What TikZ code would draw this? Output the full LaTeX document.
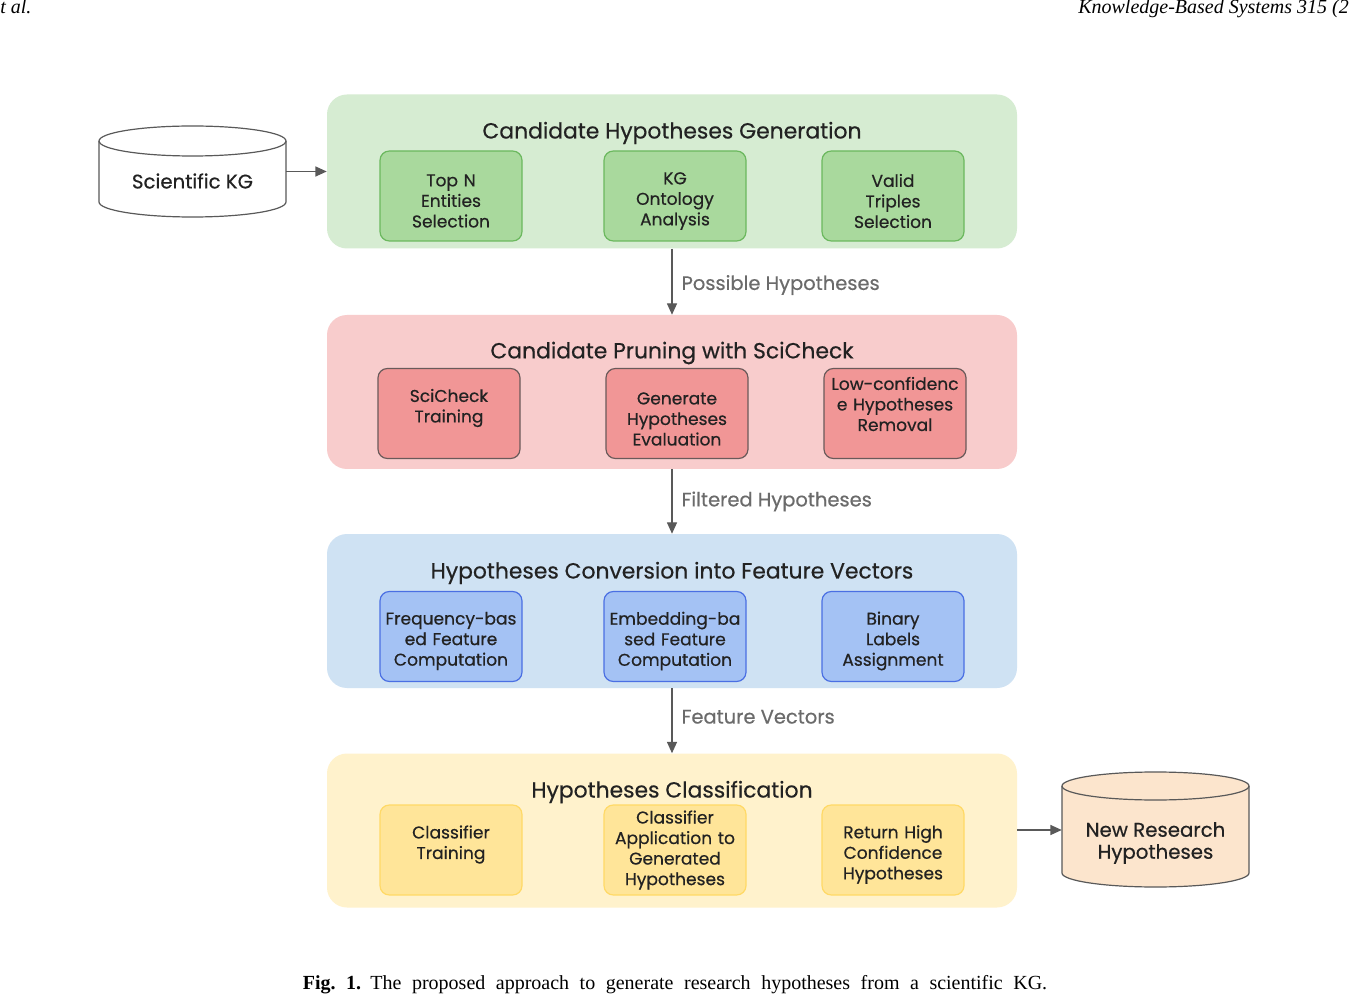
\documentclass[tikz,border=0pt]{standalone}
\usepackage{fontspec}
\setmainfont{Liberation Serif}
\newfontfamily\diagfont[FakeBold=0.5]{Poppins}
\usetikzlibrary{arrows.meta}
\definecolor{ggrp}{HTML}{D6ECD2}
\definecolor{gbox}{HTML}{A9D99D}
\definecolor{gbrd}{HTML}{6BB85E}
\definecolor{rgrp}{HTML}{F8CCCC}
\definecolor{rbox}{HTML}{F19696}
\definecolor{rbrd}{HTML}{6A5A5A}
\definecolor{bgrp}{HTML}{CFE2F3}
\definecolor{bbox}{HTML}{A4C2F4}
\definecolor{bbrd}{HTML}{4A6FE3}
\definecolor{ygrp}{HTML}{FFF2CC}
\definecolor{ybox}{HTML}{FFE599}
\definecolor{ybrd}{HTML}{FFD966}
\definecolor{ocyl}{HTML}{FCE5CD}
\definecolor{arrowc}{HTML}{595959}
\definecolor{labc}{HTML}{6B6B6B}
\definecolor{txtc}{HTML}{222222}
\tikzset{
  grp/.style={rounded corners=15pt, minimum width=517.5pt, minimum height=115.5pt, inner sep=0pt},
  grptitle/.style={font=\diagfont\fontsize{16.4}{19}\selectfont, text=txtc, inner sep=0pt},
  stepbox/.style={rounded corners=7pt, line width=0.9pt, minimum width=106.5pt, minimum height=67.5pt, inner sep=0pt},
  boxtext/.style={text width=106pt, align=center, inner sep=0pt, text=txtc,
    font=\diagfont\fontsize{12.8}{15.4}\selectfont},
  greenbox/.style={stepbox, fill=gbox, draw=gbrd},
  redbox/.style={stepbox, fill=rbox, draw=rbrd},
  bluebox/.style={stepbox, fill=bbox, draw=bbrd},
  yellowbox/.style={stepbox, fill=ybox, draw=ybrd},
  flow/.style={draw=arrowc, line width=0.9pt, -{Triangle[length=8.5pt,width=7.5pt]}},
  flowlab/.style={font=\diagfont\fontsize{14.6}{17}\selectfont, text=labc, inner sep=0pt, anchor=west, xshift=6.75pt},
  cyltext/.style={font=\diagfont\fontsize{14.8}{16.5}\selectfont, text=txtc, align=center, inner sep=0pt},
}
\begin{document}
\begin{tikzpicture}[x=0.75pt, y=-0.75pt]
\useasboundingbox (0,0) rectangle (1350,1005);
\fill[white] (0,0) rectangle (1350,1005);

% header
\node[anchor=base west, inner sep=0pt, font=\itshape\fontsize{15}{18}\selectfont] (hdl) at (0,14) {t al.};
\node[anchor=base west, inner sep=0pt, font=\itshape\fontsize{15}{18}\selectfont] (hdr) at (1078,14) {Knowledge-Based Systems 315 (2};

% groups
\node[grp, fill=ggrp] (g1) at (672,171.5) {};
\node[grp, fill=rgrp] (g2) at (672,392) {};
\node[grp, fill=bgrp] (g3) at (672,611) {};
\node[grp, fill=ygrp] (g4) at (672,830.5) {};

\node[grptitle] (t1) at (672,133) {Candidate Hypotheses Generation};
\node[grptitle] (t2) at (672,353) {Candidate Pruning with SciCheck};
\node[grptitle] (t3) at (672,573) {Hypotheses Conversion into Feature Vectors};
\node[grptitle] (t4) at (672,792) {Hypotheses Classification};

% green steps
\node[greenbox] (a1) at (451,196) {};
\node[greenbox] (a2) at (675,196) {};
\node[greenbox] (a3) at (893,196) {};
\node[boxtext] (a1t) at (451,201) {Top N\\Entities\\Selection};
\node[boxtext] (a2t) at (675,201) {KG\\Ontology\\Analysis};
\node[boxtext] (a3t) at (893,201) {Valid\\Triples\\Selection};
% red steps
\node[redbox] (b1) at (449,413.5) {};
\node[redbox] (b2) at (677,413.5) {};
\node[redbox] (b3) at (895,413.5) {};
\node[boxtext] (b1t) at (449,408) {SciCheck\\Training};
\node[boxtext] (b2t) at (677,419) {Generate\\Hypotheses\\Evaluation};
\node[boxtext] (b3t) at (895,404) {Low-confidenc\\e Hypotheses\\Removal};
% blue steps
\node[bluebox] (c1) at (451,636.5) {};
\node[bluebox] (c2) at (675,636.5) {};
\node[bluebox] (c3) at (893,636.5) {};
\node[boxtext] (c1t) at (451,641) {Frequency-bas\\ed Feature\\Computation};
\node[boxtext] (c2t) at (675,641) {Embedding-ba\\sed Feature\\Computation};
\node[boxtext] (c3t) at (893,641) {Binary\\Labels\\Assignment};
% yellow steps
\node[yellowbox] (d1) at (451,850) {};
\node[yellowbox] (d2) at (675,850) {};
\node[yellowbox] (d3) at (893,850) {};
\node[boxtext] (d1t) at (451,844.5) {Classifier\\Training};
\node[boxtext] (d2t) at (675,850) {Classifier\\Application to\\Generated\\Hypotheses};
\node[boxtext] (d3t) at (893,854.5) {Return High\\Confidence\\Hypotheses};

% flows between groups
\draw[flow] (g1.south) -- (g2.north) node[flowlab, pos=0.55] (l1) {Possible Hypotheses};
\draw[flow] (g2.south) -- (g3.north) node[flowlab, pos=0.5] (l2) {Filtered Hypotheses};
\draw[flow] (g3.south) -- (g4.north) node[flowlab, pos=0.44] (l3) {Feature Vectors};

% Scientific KG cylinder
\filldraw[fill=white, draw=arrowc, line width=0.9pt]
  (99,141) -- (99,202) arc[start angle=180, end angle=360, x radius=70.125pt, y radius=11.25pt]
  -- (286,141) arc[start angle=0, end angle=180, x radius=70.125pt, y radius=11.25pt] -- cycle;
\draw[draw=arrowc, line width=0.9pt] (99,141) arc[start angle=180, end angle=360, x radius=70.125pt, y radius=11.25pt];
\node[minimum width=140.25pt, minimum height=68pt, inner sep=0pt] (kgcyl) at (192.5,171.5) {};
\node[cyltext] (kg) at (192.5,181) {Scientific KG};
\draw[flow] (kgcyl.east) -- (kgcyl.east -| g1.west);

% New Research Hypotheses cylinder
\filldraw[fill=ocyl, draw=arrowc, line width=0.9pt]
  (1062,786) -- (1062,873) arc[start angle=180, end angle=360, x radius=70.125pt, y radius=10.5pt]
  -- (1249,786) arc[start angle=0, end angle=180, x radius=70.125pt, y radius=10.5pt] -- cycle;
\draw[draw=arrowc, line width=0.9pt] (1062,786) arc[start angle=180, end angle=360, x radius=70.125pt, y radius=10.5pt];
\node[minimum width=140.25pt, minimum height=86pt, inner sep=0pt] (nrcyl) at (1155.5,830) {};
\node[cyltext] (nr) at (1155.5,843) {New Research\\Hypotheses};
\draw[flow] (g4.east |- nrcyl.west) -- (nrcyl.west);

% caption
\node[inner sep=0pt, anchor=base, font=\fontsize{15}{18}\selectfont] (cap) at (675,989)
  {\spaceskip=7.9pt plus 1pt\textbf{Fig.\ 1.}\hspace{7pt}The proposed approach to generate research hypotheses from a scientific KG.};
\end{tikzpicture}
\end{document}
